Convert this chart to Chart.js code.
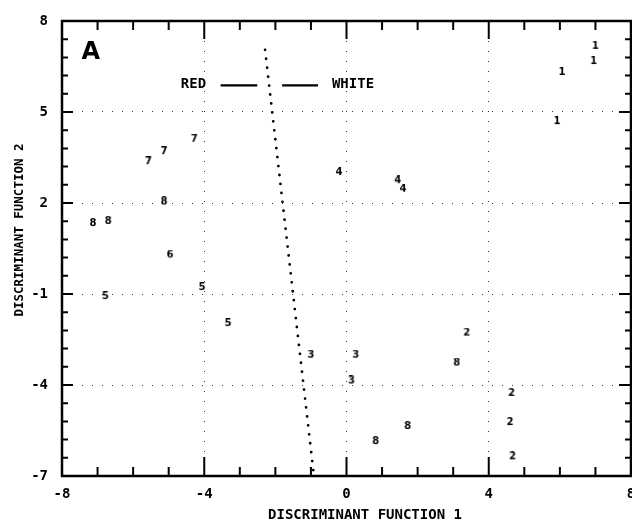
<!DOCTYPE html>
<html>
<head>
<meta charset="utf-8">
<script src="https://cdn.jsdelivr.net/npm/chart.js@4/dist/chart.umd.min.js"></script>
<style>
  body { margin: 0; background: #fff; }
  #wrap { width: 632px; height: 523px; }
</style>
</head>
<body>
<div id="wrap"><canvas id="plot" width="632" height="523"></canvas></div>
<script>
// group labels and their scores on the two discriminant functions
const groups = ["1", "2", "3", "4", "5", "6", "7", "8"];
const g1 = [[7.0, 7.18], [6.95, 6.68], [6.06, 6.32], [5.92, 4.70]];
const g2 = [[3.38, -2.27], [4.64, -4.26], [4.60, -5.22], [4.67, -6.35]];
const g3 = [[-1.0, -3.0], [0.26, -3.0], [0.14, -3.85]];
const g4 = [[-0.21, 3.02], [1.44, 2.75], [1.59, 2.47]];
const g5 = [[-4.06, -0.77], [-6.78, -1.07], [-3.33, -1.96]];
const g6 = [[-4.96, 0.30]];
const g7 = [[-4.28, 4.12], [-5.13, 3.71], [-5.57, 3.38]];
const g8 = [[-5.13, 2.05], [-6.70, 1.41], [-7.13, 1.34], [3.10, -3.26], [1.72, -5.35], [0.82, -5.85]];
const groupPoints = [g1, g2, g3, g4, g5, g6, g7, g8];

// RED / WHITE separating line
const divider = [[-2.29, 7.05], [-0.93, -6.85]];

const xTicks = [-8, -4, 0, 4, 8];
const yTicks = [-7, -4, -1, 2, 5, 8];
const xTitle = "DISCRIMINANT FUNCTION 1";
const yTitle = "DISCRIMINANT FUNCTION 2";

const monoBold = '"DejaVu Sans Mono", monospace';

function digitGlyph(txt) {
    const c = document.createElement("canvas");
    c.width = 12;
    c.height = 10;
    const g = c.getContext("2d");
    g.fillStyle = "#000";
    g.font = "bold 10px 'DejaVu Sans'";
    g.textAlign = "center";
    g.textBaseline = "middle";
    g.fillText(txt, 6, 5.5);
    return c;
}

const datasets = groups.map(function (label, i) {
    return {
        type: "scatter",
        label: label,
        data: groupPoints[i].map(p => ({ x: p[0], y: p[1] })),
        pointStyle: digitGlyph(label),
        pointRadius: 5,
        clip: false,
    };
});

datasets.push({
    type: "line",
    label: "divider",
    data: divider.map(p => ({ x: p[0], y: p[1] })),
    borderColor: "#000",
    borderWidth: 2.8,
    borderDash: [0, 9],
    borderCapStyle: "round",
    pointRadius: 0,
    fill: false,
});

// frame, inward ticks, titles and the legend text
const decor = {
    id: "decor",
    afterDatasetsDraw(chart) {
        const ctx = chart.ctx;
        const a = chart.chartArea;
        const xs = chart.scales.x;
        const ys = chart.scales.y;
        ctx.save();
        ctx.strokeStyle = "#000";
        ctx.fillStyle = "#000";

        ctx.lineWidth = 2;
        for (let v = -8; v <= 8; v++) {
            const px = xs.getPixelForValue(v);
            const major = v % 4 === 0;
            ctx.beginPath();
            ctx.moveTo(px, a.bottom);
            ctx.lineTo(px, a.bottom - (major ? 19 : 9));
            ctx.moveTo(px, a.top);
            ctx.lineTo(px, a.top + (major ? 18 : 9));
            ctx.stroke();
        }
        for (let k = 0; k <= 25; k++) {
            const v = -7 + k * 0.6;
            const py = ys.getPixelForValue(v);
            const major = k % 5 === 0;
            ctx.beginPath();
            ctx.moveTo(a.left, py);
            ctx.lineTo(a.left + (major ? 11 : 6), py);
            ctx.moveTo(a.right, py);
            ctx.lineTo(a.right - (major ? 12 : 6), py);
            ctx.stroke();
        }

        ctx.lineWidth = 2.5;
        ctx.strokeRect(a.left, a.top, a.right - a.left, a.bottom - a.top);

        // axis titles
        ctx.font = "bold 14px " + monoBold;
        ctx.textAlign = "center";
        ctx.textBaseline = "middle";
        ctx.fillText(xTitle, 365, 515);
        ctx.save();
        ctx.translate(20, 230);
        ctx.rotate(-Math.PI / 2);
        ctx.font = "bold 12.5px " + monoBold;
        ctx.fillText(yTitle, 0, 0);
        ctx.restore();

        // panel letter
        ctx.font = "900 24px 'DejaVu Sans'";
        ctx.textAlign = "left";
        ctx.fillText("A", xs.getPixelForValue(-7.45), ys.getPixelForValue(6.95));

        // legend
        ctx.font = "bold 14px " + monoBold;
        const ly = ys.getPixelForValue(5.91);
        ctx.fillText("RED", xs.getPixelForValue(-4.66), ly);
        ctx.fillText("WHITE", xs.getPixelForValue(-0.41), ly);
        ctx.lineWidth = 2.2;
        ctx.beginPath();
        ctx.moveTo(xs.getPixelForValue(-3.54), ly + 1);
        ctx.lineTo(xs.getPixelForValue(-2.51), ly + 1);
        ctx.moveTo(xs.getPixelForValue(-1.81), ly + 1);
        ctx.lineTo(xs.getPixelForValue(-0.80), ly + 1);
        ctx.stroke();
        ctx.restore();
    },
};

new Chart(document.getElementById("plot"), {
    type: "scatter",
    data: { datasets: datasets },
    options: {
        responsive: false,
        animation: false,
        events: [],
        layout: { autoPadding: false, padding: { top: 21, right: 1, left: 0, bottom: 0 } },
        plugins: {
            legend: { display: false },
            tooltip: { enabled: false },
        },
        scales: {
            x: {
                type: "linear",
                min: -8,
                max: 8,
                afterBuildTicks: (s) => { s.ticks = xTicks.map(v => ({ value: v })); },
                afterFit: (s) => {
                    s.height = 47;
                    s.paddingLeft = 0;
                    s.paddingRight = 0;
                },
                grid: { color: "#333", lineWidth: 1, drawTicks: false },
                border: { display: false, dash: [1, 9] },
                ticks: {
                    padding: 10,
                    color: "#000",
                    font: { family: "DejaVu Sans Mono", weight: "bold", size: 14 },
                    callback: (v) => v,
                },
            },
            y: {
                type: "linear",
                min: -7,
                max: 8,
                afterBuildTicks: (s) => { s.ticks = yTicks.map(v => ({ value: v })); },
                afterFit: (s) => {
                    s.width = 62;
                    s.paddingTop = 0;
                    s.paddingBottom = 0;
                },
                grid: { color: "#333", lineWidth: 1, drawTicks: false },
                border: { display: false, dash: [1, 9] },
                ticks: {
                    padding: 14,
                    color: "#000",
                    font: { family: "DejaVu Sans Mono", weight: "bold", size: 14 },
                    callback: (v) => v,
                },
            },
        },
    },
    plugins: [decor],
});
</script>
</body>
</html>
